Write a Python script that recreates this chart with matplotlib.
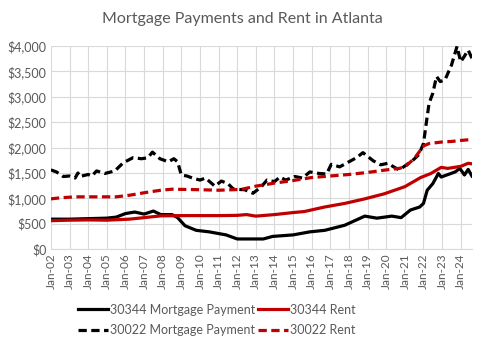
import numpy as np
import matplotlib
matplotlib.use("Agg")
import matplotlib.pyplot as plt

plt.rcParams['font.family'] = ['Lato', 'DejaVu Sans']

# 30022 mortgage payment (dashed black)
t_m30022 = [2002.0, 2002.3, 2002.66, 2003.0, 2003.3, 2003.45, 2003.55, 2004.0, 2004.2, 2004.45,
            2004.9, 2005.43, 2005.88, 2006.4, 2006.87, 2007.2, 2007.45, 2007.85, 2008.3, 2008.6,
            2008.8, 2009.0, 2009.3, 2009.6, 2010.0, 2010.3, 2010.8, 2011.15, 2011.5, 2011.8,
            2012.4, 2012.85, 2013.3, 2013.6, 2014.0, 2014.3, 2014.6, 2015.1, 2015.5, 2015.9,
            2016.4, 2016.8, 2017.05, 2017.5, 2018.0, 2018.4, 2018.75, 2019.3, 2019.7, 2020.08,
            2020.4, 2020.7, 2021.05, 2021.4, 2021.75, 2022.0, 2022.15, 2022.3, 2022.5, 2022.7,
            2022.9, 2023.15, 2023.5, 2023.8, 2024.0, 2024.2, 2024.4, 2024.6]
v_m30022 = [1560, 1520, 1430, 1440, 1400, 1500, 1430, 1470, 1440, 1540,
            1490, 1540, 1700, 1800, 1780, 1800, 1910, 1780, 1720, 1780,
            1720, 1460, 1440, 1400, 1360, 1400, 1240, 1340, 1290, 1180,
            1170, 1100, 1230, 1360, 1330, 1420, 1360, 1430, 1400, 1520,
            1490, 1480, 1670, 1620, 1720, 1800, 1900, 1740, 1660, 1690,
            1620, 1560, 1650, 1740, 1860, 2080, 2480, 2870, 3070, 3400,
            3300, 3330, 3620, 3990, 3690, 3800, 3920, 3760]

# 30022 rent (dashed red)
t_r30022 = [2002.0, 2002.5, 2003.3, 2004.5, 2005.5, 2006.2, 2007.0, 2007.9, 2008.5, 2010.0,
            2011.0, 2012.2, 2013.0, 2014.0, 2015.0, 2016.0, 2017.0, 2018.0, 2019.0, 2020.0,
            2020.7, 2021.0, 2021.5, 2022.0, 2022.3, 2023.0, 2023.5, 2024.0, 2024.6]
v_r30022 = [990, 1010, 1030, 1030, 1030, 1060, 1110, 1160, 1180, 1170,
            1160, 1175, 1240, 1300, 1350, 1410, 1440, 1470, 1510, 1560,
            1590, 1620, 1780, 2030, 2080, 2110, 2120, 2140, 2160]

# 30344 mortgage payment (solid black)
t_m30344 = [2002.0, 2003.0, 2004.0, 2005.0, 2005.5, 2006.0, 2006.5, 2007.0, 2007.5, 2007.9,
            2008.5, 2008.8, 2009.2, 2009.8, 2010.5, 2011.4, 2012.0, 2013.4, 2013.9, 2015.0,
            2015.9, 2016.7, 2017.77, 2018.85, 2019.5, 2020.3, 2020.8, 2021.3, 2021.8, 2022.0,
            2022.2, 2022.5, 2022.8, 2022.95, 2023.25, 2023.7, 2023.95, 2024.2, 2024.4, 2024.6]
v_m30344 = [590, 590, 600, 610, 630, 700, 730, 690, 750, 680,
            680, 620, 460, 370, 340, 280, 200, 200, 250, 280,
            340, 370, 470, 650, 610, 650, 620, 770, 830, 900,
            1160, 1290, 1490, 1420, 1460, 1520, 1590, 1460, 1570, 1440]

# 30344 rent (solid red)
t_r30344 = [2002.0, 2003.0, 2004.0, 2005.0, 2006.2, 2007.0, 2007.9, 2009.0, 2010.0, 2011.0,
            2012.0, 2012.5, 2013.0, 2014.0, 2015.0, 2015.6, 2016.7, 2017.77, 2018.85, 2019.9,
            2021.0, 2021.85, 2022.4, 2022.95, 2023.3, 2024.0, 2024.4, 2024.6]
v_r30344 = [560, 570, 575, 570, 590, 620, 655, 660, 660, 660,
            665, 680, 650, 680, 720, 740, 830, 900, 990, 1090,
            1230, 1410, 1490, 1610, 1590, 1630, 1690, 1680]

years = list(range(2002, 2025))
year_labels = [f"Jan-{y % 100:02d}" for y in years]

gray = "#595959"
red = "#C00000"
lw = 2.3
dash = (2.6, 1.4)

fig = plt.figure(figsize=(4.85, 3.46), dpi=100)
ax = fig.add_axes([0.105, 0.280, 0.868, 0.587])

l1, = ax.plot(t_m30344, v_m30344, color="black", lw=lw, label="30344 Mortgage Payment")
l2, = ax.plot(t_r30344, v_r30344, color=red, lw=lw, label="30344 Rent")
l3, = ax.plot(t_m30022, v_m30022, color="black", lw=lw, dashes=dash, label="30022 Mortgage Payment")
l4, = ax.plot(t_r30022, v_r30022, color=red, lw=lw, dashes=dash, label="30022 Rent")

ax.set_xlim(2002, 2024.6)
ax.set_ylim(0, 4000)
ax.set_xticks(years)
ax.set_xticklabels(year_labels, rotation=90, fontsize=8.5, color=gray)
ax.set_yticks(range(0, 4001, 500))
ax.set_yticklabels([f"${v:,}" for v in range(0, 4001, 500)], fontsize=9, color=gray)
ax.tick_params(length=0, pad=3)
ax.grid(True, color="#D9D9D9", lw=0.8)
ax.set_axisbelow(True)
for s in ["top", "right", "left"]:
    ax.spines[s].set_visible(False)
ax.spines["bottom"].set_color("#D9D9D9")

fig.text(0.5, 0.945, "Mortgage Payments and Rent in Atlanta", ha="center", va="center",
         fontsize=11.5, color=gray)

# column-major fill -> rows: 30344 pair, then 30022 pair
handles = [l1, l3, l2, l4]
fig.legend(handles, [h.get_label() for h in handles], loc="center",
           bbox_to_anchor=(0.447, 0.075), ncol=2, frameon=False,
           fontsize=9, labelcolor=gray, handlelength=2.4, handletextpad=0.2,
           columnspacing=0.2, labelspacing=0.7)

fig.savefig("out.png", dpi=100)
